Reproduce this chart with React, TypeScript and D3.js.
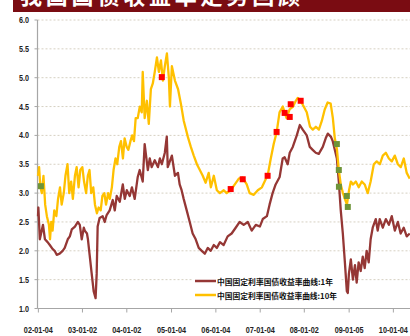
import React from "react";
import * as d3 from "d3";

const tickDates = ["2002-01-04","2003-01-02","2004-01-02","2005-01-04","2006-01-04","2007-01-04","2008-01-02","2009-01-05","2010-01-04"];
const yTicks = [1.0,1.5,2.0,2.5,3.0,3.5,4.0,4.5,5.0,5.5,6.0];
const seriesNames = ["中国固定利率国债收益率曲线:1年","中国固定利率国债收益率曲线:10年"];
const titleText = "我国国债收益率走势回顾";

const yield10Y: [string, number][] = [
  ["2002-01-01",3.3],["2002-01-10",3.45],["2002-01-20",3.12],["2002-02-01",3.0],["2002-02-15",3.3],["2002-03-01",2.8],["2002-03-15",2.6],["2002-04-01",2.45],["2002-04-10",2.2],["2002-04-20",2.5],["2002-05-01",2.35],["2002-05-15",2.7],["2002-06-01",2.6],["2002-06-15",2.9],["2002-07-01",3.1],["2002-07-15",2.8],["2002-08-01",3.0],["2002-08-15",3.3],["2002-09-01",3.5],["2002-09-15",3.0],["2002-10-01",3.2],["2002-10-15",2.9],["2002-11-01",3.3],["2002-11-15",3.45],["2002-12-01",3.1],["2002-12-15",3.4],
  ["2003-01-01",3.45],["2003-01-15",3.2],["2003-02-01",3.0],["2003-02-15",3.3],["2003-03-01",3.4],["2003-03-15",3.0],["2003-04-01",3.1],["2003-04-15",2.8],["2003-05-01",2.65],["2003-05-15",2.75],["2003-06-01",2.7],["2003-06-15",2.95],["2003-07-01",3.0],["2003-07-15",2.8],["2003-08-01",3.0],["2003-08-15",2.9],["2003-09-01",3.1],["2003-09-15",3.4],["2003-10-01",3.6],["2003-10-15",3.5],["2003-11-01",3.8],["2003-11-15",3.9],["2003-12-01",3.6],["2003-12-15",3.95],
  ["2004-01-01",3.8],["2004-01-15",3.75],["2004-02-01",3.9],["2004-02-15",4.0],["2004-03-01",3.9],["2004-03-15",4.3],["2004-04-01",4.3],["2004-04-18",4.5],["2004-05-04",4.4],["2004-05-12",5.1],["2004-05-28",4.3],["2004-06-15",4.6],["2004-07-01",4.2],["2004-07-18",4.8],["2004-08-03",4.9],["2004-08-19",5.1],["2004-09-06",5.35],["2004-09-22",5.1],["2004-10-09",5.3],["2004-10-25",4.95],["2004-11-10",5.2],["2004-11-27",5.42],["2004-12-13",5.0],["2004-12-22",4.5],
  ["2005-01-07",5.2],["2005-02-01",4.95],["2005-02-27",4.8],["2005-03-22",4.55],["2005-04-15",4.25],["2005-05-19",3.97],["2005-06-12",3.8],["2005-07-06",3.65],["2005-08-01",3.5],["2005-08-25",3.4],["2005-09-18",3.3],["2005-10-12",3.18],["2005-11-06",3.35],["2005-11-24",3.1],["2005-12-18",3.3],
  ["2006-01-12",3.05],["2006-02-06",3.0],["2006-03-10",3.05],["2006-04-03",3.0],["2006-05-06",3.05],["2006-06-09",3.15],["2006-07-12",3.25],["2006-08-12",3.27],["2006-09-15",3.15],["2006-10-09",3.0],["2006-11-12",2.97],["2006-12-15",3.05],
  ["2007-01-18",3.1],["2007-02-20",3.25],["2007-03-06",3.3],["2007-04-01",3.6],["2007-04-25",3.85],["2007-05-19",4.05],["2007-06-12",4.4],["2007-07-09",4.5],["2007-07-24",4.4],["2007-08-09",4.3],["2007-09-03",4.45],["2007-10-01",4.5],["2007-10-24",4.6],["2007-11-09",4.65],["2007-12-03",4.6],["2007-12-28",4.5],
  ["2008-01-22",4.4],["2008-02-18",4.15],["2008-03-12",4.1],["2008-04-06",4.15],["2008-05-01",4.1],["2008-05-25",4.25],["2008-06-18",4.45],["2008-07-12",4.57],["2008-08-06",4.55],["2008-08-24",4.3],["2008-09-09",3.95],["2008-09-27",3.75],["2008-10-12",3.4],["2008-10-28",3.15],["2008-11-15",3.0],["2008-12-01",2.9],["2008-12-18",2.8],
  ["2009-01-04",3.05],["2009-01-19",3.2],["2009-02-06",3.15],["2009-03-01",3.2],["2009-03-25",3.1],["2009-04-19",3.2],["2009-05-13",3.15],["2009-06-07",3.0],["2009-07-01",3.2],["2009-07-27",3.5],["2009-08-20",3.55],["2009-09-15",3.5],["2009-10-09",3.65],["2009-11-03",3.7],["2009-11-28",3.6],["2009-12-22",3.55],
  ["2010-01-16",3.65],["2010-02-10",3.5],["2010-03-06",3.45],["2010-03-31",3.6],["2010-04-24",3.35],["2010-05-19",3.25]
];

const yield1Y: [string, number][] = [
  ["2002-01-01",2.6],["2002-01-04",2.75],["2002-01-16",2.2],["2002-02-11",2.45],["2002-02-27",2.2],["2002-03-21",2.15],["2002-04-08",2.1],["2002-05-02",2.03],["2002-05-18",2.0],["2002-06-04",1.93],["2002-06-28",1.95],["2002-07-23",2.0],["2002-08-09",2.05],["2002-09-03",2.2],["2002-09-20",2.25],["2002-10-06",2.37],["2002-11-01",2.42],["2002-11-25",2.5],["2002-12-11",2.45],["2002-12-27",2.2],
  ["2003-01-13",2.4],["2003-01-21",2.35],["2003-02-08",2.3],["2003-02-16",2.2],["2003-03-02",1.93],["2003-03-18",1.62],["2003-04-04",1.3],["2003-04-20",1.18],["2003-04-29",1.6],["2003-05-07",2.42],["2003-05-23",2.57],["2003-06-17",2.6],["2003-07-04",2.5],["2003-07-20",2.62],["2003-08-14",2.7],["2003-09-08",2.88],["2003-09-25",2.7],["2003-10-11",2.95],["2003-11-05",2.85],["2003-11-30",3.15],["2003-12-16",2.9],
  ["2004-01-02",3.05],["2004-01-26",2.95],["2004-02-13",3.1],["2004-03-07",2.9],["2004-04-01",3.28],["2004-04-17",3.4],["2004-05-12",3.2],["2004-05-28",3.85],["2004-06-23",3.4],["2004-07-09",3.6],["2004-07-25",3.45],["2004-08-19",3.57],["2004-09-14",3.45],["2004-09-30",3.6],["2004-10-16",3.5],["2004-11-10",3.7],["2004-11-26",3.98],["2004-12-04",3.45],["2004-12-21",3.55],
  ["2005-01-07",3.65],["2005-02-01",3.3],["2005-02-26",3.35],["2005-03-12",3.15],["2005-03-28",3.05],["2005-04-14",2.9],["2005-05-09",2.7],["2005-06-03",2.5],["2005-06-27",2.3],["2005-07-22",2.2],["2005-08-16",2.05],["2005-09-10",2.0],["2005-10-05",1.95],["2005-10-29",2.05],["2005-11-23",2.0],["2005-12-18",2.1],
  ["2006-01-12",2.05],["2006-02-07",2.15],["2006-03-09",2.1],["2006-04-11",2.25],["2006-05-14",2.3],["2006-06-16",2.4],["2006-07-19",2.5],["2006-08-21",2.45],["2006-09-24",2.5],["2006-10-26",2.35],["2006-11-29",2.45],
  ["2007-01-01",2.42],["2007-01-25",2.55],["2007-02-28",2.6],["2007-03-22",2.8],["2007-04-16",3.0],["2007-05-11",3.15],["2007-06-13",3.28],["2007-07-08",3.6],["2007-07-24",3.62],["2007-08-18",3.5],["2007-09-04",3.7],["2007-09-29",3.8],["2007-11-01",4.0],["2007-11-26",4.18],["2007-12-20",4.1],
  ["2008-01-22",4.0],["2008-02-16",3.8],["2008-03-11",3.75],["2008-04-05",3.7],["2008-04-30",3.68],["2008-06-02",3.8],["2008-06-26",3.95],["2008-07-13",4.03],["2008-08-07",3.98],["2008-08-23",3.9],["2008-09-09",3.75],["2008-09-26",3.6],["2008-10-12",3.2],["2008-10-28",2.7],["2008-11-14",2.3],["2008-12-01",1.8],["2008-12-17",1.3],["2008-12-25",1.27],
  ["2009-01-03",1.6],["2009-01-19",1.85],["2009-02-05",1.5],["2009-02-22",1.75],["2009-03-08",1.45],["2009-03-24",1.8],["2009-04-10",1.65],["2009-04-27",1.9],["2009-05-13",1.7],["2009-05-29",2.0],["2009-06-15",1.8],["2009-07-01",2.2],["2009-07-18",2.4],["2009-08-12",2.55],["2009-08-28",2.35],["2009-09-14",2.55],["2009-10-09",2.4],["2009-11-03",2.55],["2009-11-28",2.45],["2009-12-22",2.6],
  ["2010-01-16",2.35],["2010-02-10",2.5],["2010-03-05",2.3],["2010-03-30",2.4],["2010-04-24",2.25],["2010-05-19",2.3]
];

const redMarks: [string, number][] = [
  ["2004-10-16",5.01],["2006-05-06",3.07],["2006-08-13",3.24],["2007-03-06",3.3],["2007-05-19",4.06],["2007-07-24",4.39],["2007-09-04",4.32],["2007-09-12",4.54],["2007-12-03",4.6]
];
const greenMarks: [string, number][] = [
  ["2002-01-25",3.12],["2008-09-26",3.85],["2008-10-12",3.4],["2008-10-13",3.11],["2008-12-17",2.95],["2008-12-25",2.76]
];

const parse = d3.timeParse("%Y-%m-%d");
const fmt = d3.timeFormat("%y-%m-%d");

export default function App() {
  const W = 410, H = 336;
  const x = d3.scaleTime().domain([new Date(2002, 0, 1), new Date(2010, 0, 1)]).range([38, 393]);
  const y = d3.scaleLinear().domain([1, 6]).range([308.5, 20]);
  const line = d3.line<[string, number]>().x(d => x(parse(d[0]) as Date)).y(d => y(d[1]));
  const axisX = 37.5;
  const labelFont = "'Liberation Sans', Arial, sans-serif";
  return (
    <svg width={W} height={H} style={{ position: "absolute", left: 0, top: 0, background: "#fff" }}>
      <rect x={13} y={0} width={W - 13} height={12} fill="#7a0c12" />
      <text x={20} y={4} fill="#fff" fontSize={22} fontWeight="bold" fontFamily="'Noto Sans CJK SC'" textLength={280} lengthAdjust="spacing">{titleText}</text>
      {yTicks.filter(t => t > 1).map(t => (
        <line key={"g" + t} x1={axisX} x2={W} y1={y(t)} y2={y(t)} stroke="#d6d0c2" strokeWidth={1} strokeDasharray="2,2" />
      ))}
      <line x1={axisX} x2={axisX} y1={y(6)} y2={y(1)} stroke="#a6a6a6" strokeWidth={1.2} />
      <line x1={axisX} x2={W} y1={y(1)} y2={y(1)} stroke="#a6a6a6" strokeWidth={1.2} />
      {yTicks.map(t => (
        <g key={"yt" + t}>
          <line x1={axisX - 3} x2={axisX} y1={y(t)} y2={y(t)} stroke="#a6a6a6" />
          <text x={29} y={y(t) + 3} textAnchor="end" fontSize={8.5} fontWeight="bold" fontFamily={labelFont} fill="#222" textLength={10} lengthAdjust="spacingAndGlyphs">{t.toFixed(1)}</text>
        </g>
      ))}
      {tickDates.map(s => {
        const d = parse(s) as Date;
        return (
          <g key={s}>
            <line x1={x(d)} x2={x(d)} y1={y(1)} y2={y(1) + 4} stroke="#a6a6a6" />
            <text x={x(d)} y={333} textAnchor="middle" fontSize={8.5} fontWeight="bold" fontFamily={labelFont} fill="#222" textLength={29} lengthAdjust="spacingAndGlyphs">{fmt(d)}</text>
          </g>
        );
      })}
      <path d={line(yield1Y) || ""} fill="none" stroke="#953735" strokeWidth={2.3} strokeLinejoin="round" />
      <path d={line(yield10Y) || ""} fill="none" stroke="#ffc000" strokeWidth={2.3} strokeLinejoin="round" />
      {redMarks.map((m, i) => (
        <rect key={"r" + i} x={x(parse(m[0]) as Date) - 3} y={y(m[1]) - 3} width={6} height={6} fill="#ff0000" />
      ))}
      {greenMarks.map((m, i) => (
        <rect key={"gm" + i} x={x(parse(m[0]) as Date) - 3} y={y(m[1]) - 3} width={6} height={6} fill="#6e9438" />
      ))}
      <rect x={193} y={274} width={148} height={27} fill="#fff" />
      {seriesNames.map((n, i) => (
        <g key={n}>
          <line x1={195} x2={216} y1={281 + i * 14} y2={281 + i * 14} stroke={i === 0 ? "#953735" : "#ffc000"} strokeWidth={2.5} />
          <text x={217} y={284.5 + i * 14} fontSize={7.5} fontWeight="bold" fontFamily="'Noto Sans CJK SC'" fill="#111" textLength={i === 0 ? 116 : 120} lengthAdjust="spacingAndGlyphs">{n}</text>
        </g>
      ))}
    </svg>
  );
}
